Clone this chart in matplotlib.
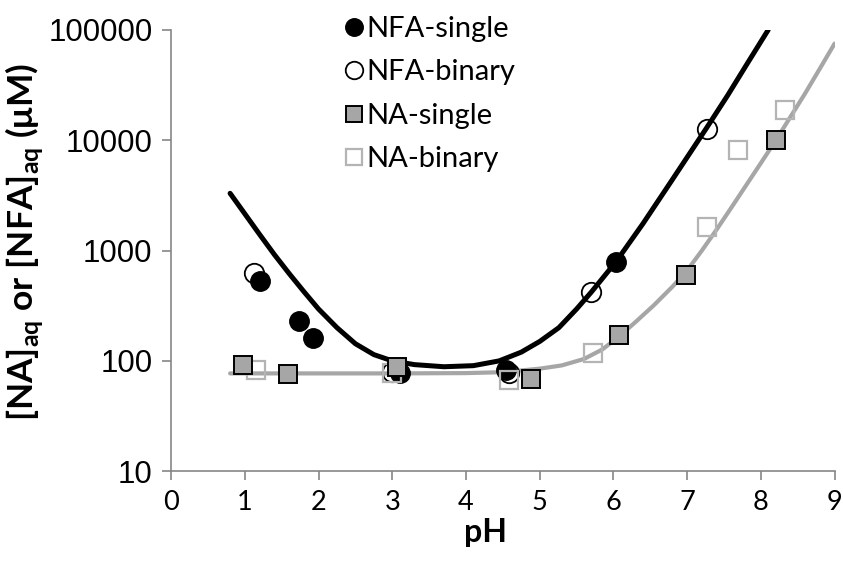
import matplotlib
matplotlib.use("Agg")
import matplotlib.pyplot as plt
from matplotlib.ticker import FixedLocator, NullLocator

plt.rcParams["mathtext.fontset"] = "custom"
plt.rcParams["mathtext.rm"] = "Lato"
plt.rcParams["mathtext.bf"] = "Lato:bold"

# measured points
nfa_single_ph = [1.20, 1.73, 1.93, 3.11, 4.54, 6.04]
nfa_single_c = [530, 230, 160, 78, 83, 780]

nfa_binary_ph = [1.13, 3.00, 4.58, 5.70, 7.27]
nfa_binary_c = [625, 80, 78, 425, 12600]

na_single_ph = [0.98, 1.58, 3.07, 4.88, 6.08, 6.99, 8.20]
na_single_c = [92, 76, 88, 69, 170, 605, 10000]

na_binary_ph = [1.15, 3.00, 4.58, 5.72, 7.27, 7.69, 8.33]
na_binary_c = [83, 78, 67, 118, 1630, 8200, 18800]

# model curves
nfa_fit_ph = [0.8, 1.0, 1.2, 1.4, 1.6, 1.8, 2.0, 2.25, 2.5, 2.75, 3.0, 3.3, 3.7,
              4.1, 4.45, 4.75, 5.0, 5.26, 5.5, 5.7, 6.04, 6.4, 6.78, 7.26, 7.55,
              7.82, 8.1]
nfa_fit_c = [3300, 2150, 1400, 920, 620, 425, 295, 200, 143, 114, 100, 92.5, 88.5,
             90.5, 100, 120, 150, 200, 295, 420, 800, 1750, 4200, 12800, 25500,
             50000, 100000]

na_fit_ph = [0.8, 2.0, 3.0, 4.0, 4.5, 5.0, 5.3, 5.6, 5.85, 6.07, 6.3, 6.55,
             6.8, 7.0, 7.2, 7.4, 7.6, 7.8, 8.0, 8.2, 8.4, 8.6, 8.8, 9.0]
na_fit_c = [77, 77, 77, 77.5, 79, 85, 91, 104, 127, 165, 225, 320,
            470, 660, 1000, 1550, 2450, 3900, 6200, 9900, 16200, 26500, 44500, 75000]

yticks = [10, 100, 1000, 10000, 100000]
xticks = list(range(0, 10))

fig = plt.figure(figsize=(8.43, 5.63), dpi=100)
ax = fig.add_axes([0.203, 0.163, 0.787, 0.784])

ax.plot(nfa_fit_ph, nfa_fit_c, color="black", lw=3.6, zorder=2,
        solid_capstyle="round", solid_joinstyle="round")
ax.plot(na_fit_ph, na_fit_c, color="#A6A6A6", lw=3.0, zorder=2,
        solid_capstyle="round", solid_joinstyle="round")

ms = 14
ax.plot(nfa_binary_ph, nfa_binary_c, "o", ms=ms, mfc="none", mec="black",
        mew=1.3, ls="none", zorder=3, label="NFA-binary")
ax.plot(nfa_single_ph, nfa_single_c, "o", ms=ms, mfc="black", mec="black",
        mew=1.0, ls="none", zorder=4, label="NFA-single")
ax.plot(na_binary_ph, na_binary_c, "s", ms=13.5, mfc="none", mec="#B4B4B4",
        mew=1.6, ls="none", zorder=5, label="NA-binary")
ax.plot(na_single_ph, na_single_c, "s", ms=13.5, mfc="#A6A6A6", mec="black",
        mew=1.4, ls="none", zorder=6, label="NA-single")

ax.set_yscale("log")
ax.set_ylim(10, 100000)
ax.set_xlim(0, 9)
ax.yaxis.set_major_locator(FixedLocator(yticks))
ax.yaxis.set_minor_locator(NullLocator())
ax.set_yticklabels([str(v) for v in yticks], fontsize=22.5, family="Liberation Sans")
ax.set_xticks(xticks)
ax.set_xticklabels([str(v) for v in xticks], fontsize=19.5, family="Lato")

for s in ["top", "right"]:
    ax.spines[s].set_visible(False)
for s in ["left", "bottom"]:
    ax.spines[s].set_color("#868686")
    ax.spines[s].set_linewidth(1.2)
ax.tick_params(axis="both", direction="out", length=6.5, width=1.2,
               color="#868686", pad=7)
ax.spines["bottom"].set_zorder(10)

ax.set_xlabel("pH", fontsize=23, fontweight="bold", family="Lato")
ax.xaxis.set_label_coords(0.474, -0.105)
ax.set_ylabel(r"[NA]$_{\mathbf{aq}}$ or [NFA]$_{\mathbf{aq}}$ (μM)", fontsize=25.5,
              fontweight="bold", family="Lato")
ax.yaxis.set_label_coords(-0.190, 0.52)

h, l = ax.get_legend_handles_labels()
order = [1, 0, 3, 2]
leg = ax.legend([h[i] for i in order], [l[i] for i in order],
                loc="upper left", bbox_to_anchor=(0.24, 1.065),
                frameon=False, prop={"family": "Lato", "size": 21},
                borderpad=0, handlelength=0.6, handletextpad=0.15,
                labelspacing=0.6, markerscale=0.9)
leg.set_zorder(20)

fig.savefig("out.png", dpi=100)
